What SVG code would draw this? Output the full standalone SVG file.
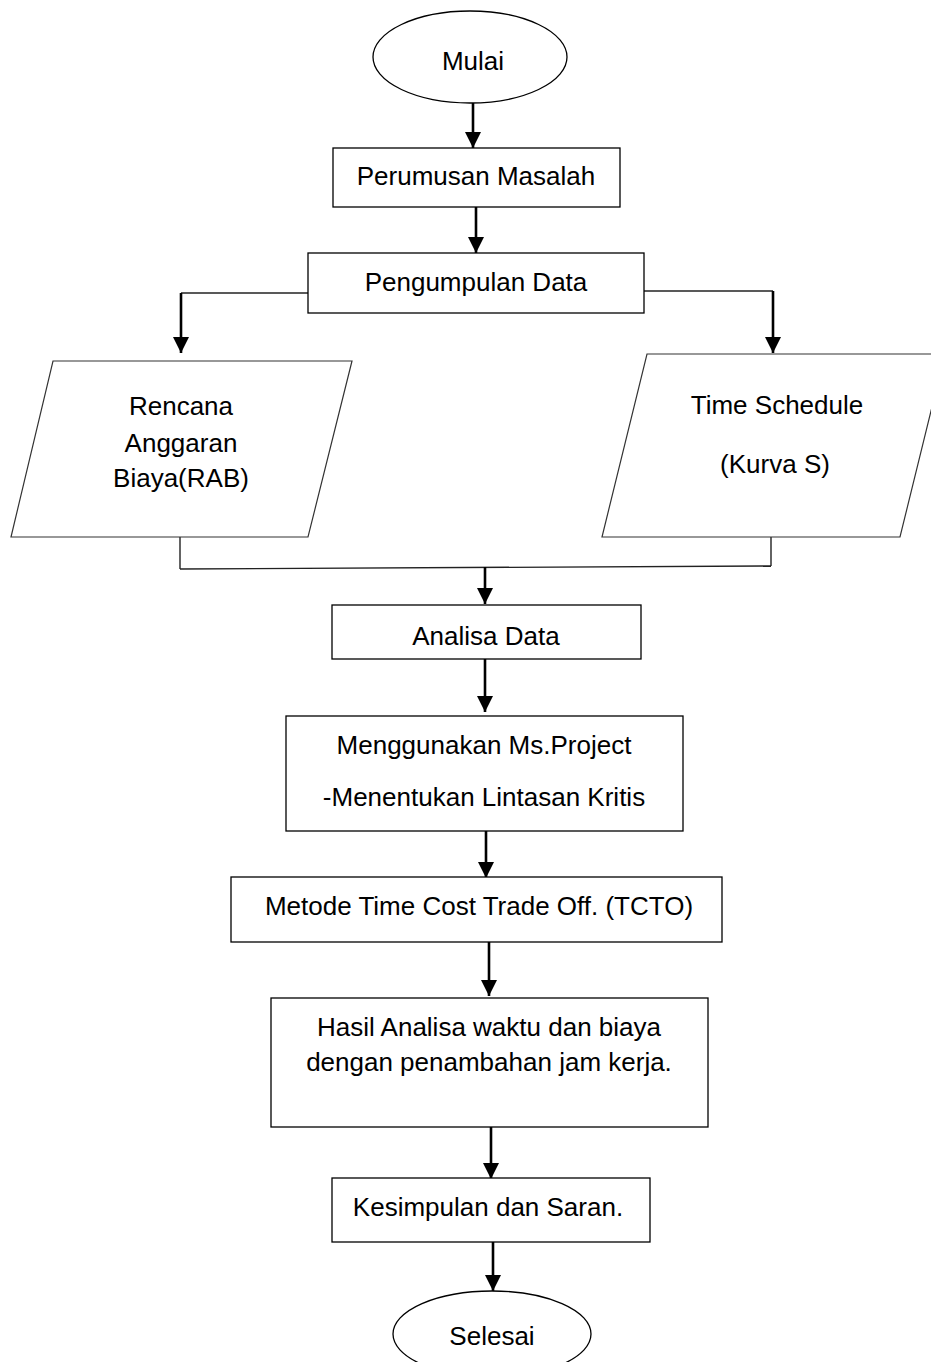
<svg xmlns="http://www.w3.org/2000/svg" width="931" height="1362" viewBox="0 0 931 1362">
<defs>
<marker id="arr" markerUnits="userSpaceOnUse" markerWidth="16" markerHeight="16" refX="16" refY="8" orient="auto">
<path d="M0,0 L16,8 L0,16 z" fill="#000"/>
</marker>
<style>
.n{fill:#fff;stroke:#000;stroke-width:1.3}
.p{fill:#fff;stroke:#333;stroke-width:1.2}
.t{font-family:"Liberation Sans",Arial,sans-serif;font-size:26px;fill:#000;text-anchor:middle}
.a{stroke:#000;stroke-width:2.6;fill:none;marker-end:url(#arr)}
.l{stroke:#222;stroke-width:1.4;fill:none}
</style>
</defs>
<rect width="931" height="1362" fill="#fff"/>
<g id="connectors">
<line class="a" x1="473" y1="103" x2="473" y2="148"/>
<line class="a" x1="476" y1="207" x2="476" y2="253"/>
<line class="l" x1="308" y1="293" x2="181" y2="293"/>
<line class="a" x1="181" y1="293" x2="181" y2="353"/>
<line class="l" x1="644" y1="291" x2="773" y2="291"/>
<line class="a" x1="773" y1="291" x2="773" y2="353"/>
<line class="l" x1="180" y1="537" x2="180" y2="569"/>
<line class="l" x1="180" y1="569" x2="771" y2="566"/>
<line class="l" x1="771" y1="534" x2="771" y2="566"/>
<line class="a" x1="485" y1="567" x2="485" y2="604"/>
<line class="a" x1="485" y1="659" x2="485" y2="712"/>
<line class="a" x1="486" y1="831" x2="486" y2="878"/>
<line class="a" x1="489" y1="942" x2="489" y2="996"/>
<line class="a" x1="491" y1="1127" x2="491" y2="1179"/>
<line class="a" x1="493" y1="1242" x2="493" y2="1291"/>
</g>
<g id="mulai">
<ellipse class="n" cx="470" cy="57" rx="97" ry="46" stroke-width="1"/>
<text class="t" x="473" y="70">Mulai</text>
</g>
<g id="perumusan">
<rect class="n" x="333" y="148" width="287" height="59"/>
<text class="t" x="476" y="185">Perumusan Masalah</text>
</g>
<g id="pengumpulan">
<rect class="n" x="308" y="253" width="336" height="60"/>
<text class="t" x="476" y="291">Pengumpulan Data</text>
</g>
<g id="rab">
<polygon class="p" points="53,361 352,361 308,537 11,537"/>
<text class="t" x="181" y="415">Rencana</text>
<text class="t" x="181" y="452">Anggaran</text>
<text class="t" x="181" y="487">Biaya(RAB)</text>
</g>
<g id="timeschedule">
<polygon class="p" points="647,354 945,354 900,537 602,537"/>
<text class="t" x="777" y="414">Time Schedule</text>
<text class="t" x="775" y="473">(Kurva S)</text>
</g>
<g id="analisa">
<rect class="n" x="332" y="605" width="309" height="54"/>
<text class="t" x="486" y="645">Analisa Data</text>
</g>
<g id="msproject">
<rect class="n" x="286" y="716" width="397" height="115"/>
<text class="t" x="484" y="754">Menggunakan Ms.Project</text>
<text class="t" x="484" y="806">-Menentukan Lintasan Kritis</text>
</g>
<g id="tcto">
<rect class="n" x="231" y="877" width="491" height="65"/>
<text class="t" x="479" y="915">Metode Time Cost Trade Off. (TCTO)</text>
</g>
<g id="hasil">
<rect class="n" x="271" y="998" width="437" height="129"/>
<text class="t" x="489" y="1036">Hasil Analisa waktu dan biaya</text>
<text class="t" x="489" y="1071">dengan penambahan jam kerja.</text>
</g>
<g id="kesimpulan">
<rect class="n" x="332" y="1178" width="318" height="64"/>
<text class="t" x="488" y="1216">Kesimpulan dan Saran.</text>
</g>
<g id="selesai">
<ellipse class="n" cx="492" cy="1334" rx="99" ry="43" stroke-width="1"/>
<text class="t" x="492" y="1345">Selesai</text>
</g>
</svg>
